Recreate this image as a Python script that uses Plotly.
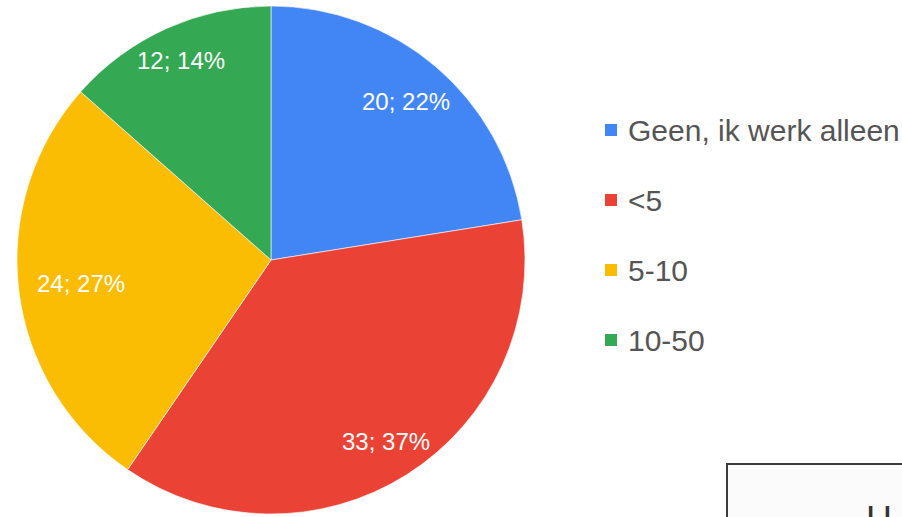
import math
import plotly.graph_objects as go

labels = ["Geen, ik werk alleen", "<5", "5-10", "10-50"]
values = [20, 33, 24, 12]
percents = [22, 37, 27, 14]
colors = ["#4285F4", "#EA4335", "#FBBC04", "#34A853"]

slice_text = [f"{v}; {p}%" for v, p in zip(values, percents)]

W, H = 902, 517
# pie geometry (pixels)
CX, CY, R = 271, 260, 254
dom_x = [(CX - R) / W, (CX + R) / W]
dom_y = [1 - (CY + R) / H, 1 - (CY - R) / H]

fig = go.Figure()
fig.add_trace(go.Pie(
    labels=labels, values=values, sort=False, direction="clockwise", rotation=0,
    marker=dict(colors=colors, line=dict(color="white", width=0.6)),
    textinfo="none", hoverinfo="label+value+percent", showlegend=False,
    domain=dict(x=dom_x, y=dom_y),
))

# slice labels: horizontal text at mid-angle, kept inside the circle
LBL_SIZE = 24
char_w = {d: 0.556 for d in "0123456789"}
char_w.update({";": 0.278, " ": 0.278, "%": 0.889})
total = sum(values)
cum = 0
for v, txt in zip(values, slice_text):
    mid = (cum + v / 2) / total * 2 * math.pi
    cum += v
    sx, sy = math.sin(mid), -math.cos(mid)
    half_w = sum(char_w.get(c, 0.55) for c in txt) * LBL_SIZE / 2
    r = 0.86 * R
    while r > 0:
        x, y = r * sx, r * sy
        chord = math.sqrt(max(R ** 2 - y ** 2, 0)) - 18
        if abs(x) + half_w <= chord:
            break
        r -= 1
    px, py = CX + r * sx, CY + r * sy
    fig.add_annotation(xref="paper", yref="paper", x=px / W, y=1 - py / H,
                       xanchor="center", yanchor="middle", text=txt, showarrow=False,
                       font=dict(family="Liberation Sans, Arial", size=LBL_SIZE, color="white"))

# legend drawn manually
leg_x = 605
leg_top = 130
leg_step = 70
sq = 12
for i, (lab, col) in enumerate(zip(labels, colors)):
    yc = leg_top + i * leg_step
    fig.add_shape(type="rect", xref="paper", yref="paper",
                  x0=leg_x / W, x1=(leg_x + sq) / W,
                  y0=1 - (yc + sq / 2) / H, y1=1 - (yc - sq / 2) / H,
                  fillcolor=col, line=dict(width=0))
    fig.add_annotation(xref="paper", yref="paper", x=626 / W, y=1 - yc / H,
                       xanchor="left", yanchor="middle", text=lab, showarrow=False,
                       font=dict(family="Liberation Sans, Arial", size=30, color="#555555"))

# partially visible box at bottom right
fig.add_shape(type="rect", xref="paper", yref="paper",
              x0=727 / W, x1=1.05, y0=-0.05, y1=1 - 464 / H,
              fillcolor="#fbfbfb", line=dict(color="#3c3c3c", width=2))
fig.add_annotation(xref="paper", yref="paper", x=879 / W, y=1 - 497 / H,
                   xanchor="center", yanchor="top", text="H", showarrow=False,
                   font=dict(family="Liberation Sans, Arial", size=36, color="#333333"))

fig.update_layout(
    width=W, height=H,
    margin=dict(l=0, r=0, t=0, b=0),
    paper_bgcolor="white", plot_bgcolor="white",
)

fig.write_html("out.html", config={"displayModeBar": False},
               post_script="document.body.style.margin='0';document.body.style.overflow='hidden';")
